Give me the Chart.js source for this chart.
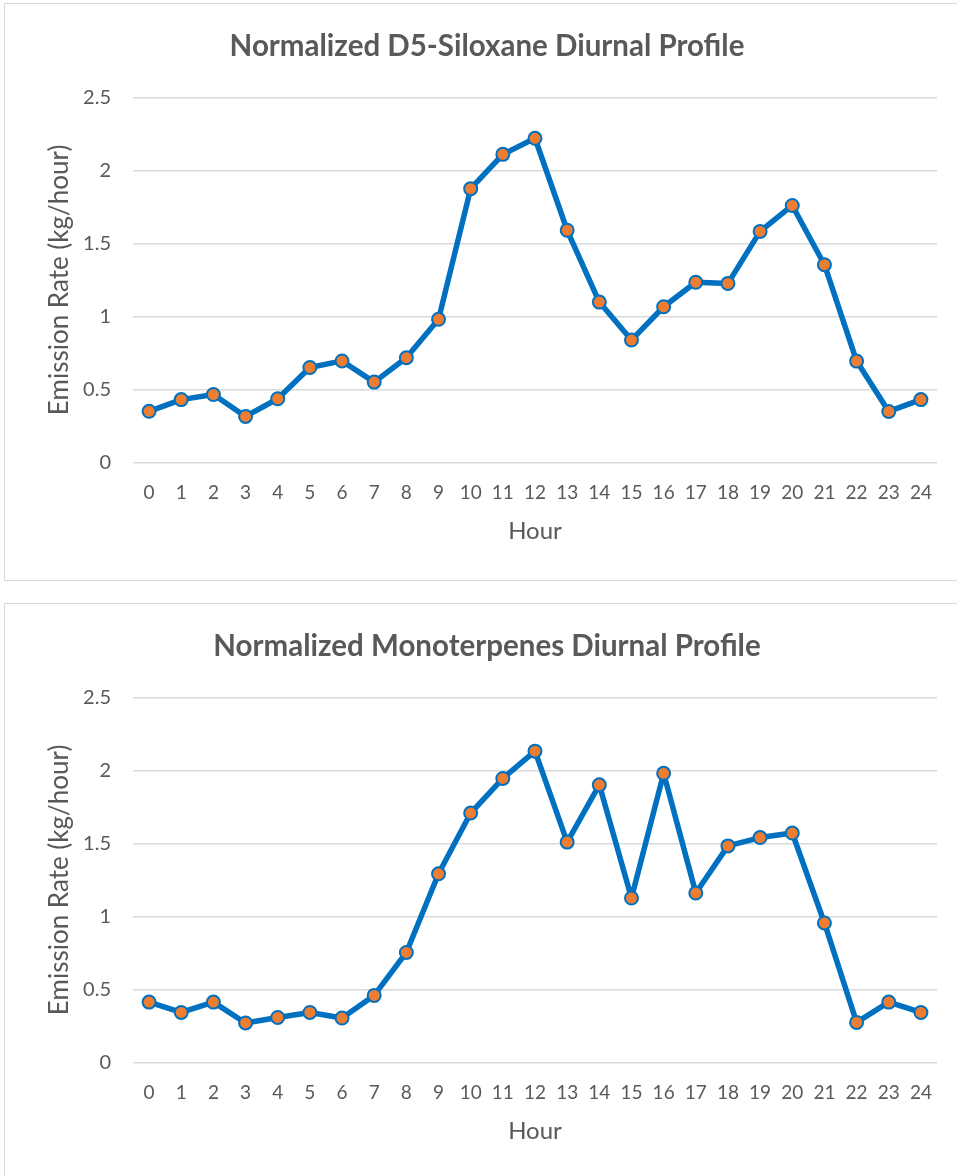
<!DOCTYPE html>
<html>
<head>
<meta charset="utf-8">
<script src="https://cdn.jsdelivr.net/npm/chart.js@4.4.1/dist/chart.umd.min.js"></script>
<style>
  html, body { margin: 0; padding: 0; background: #fff; overflow: hidden; width: 957px; height: 1176px; }
  .box { position: absolute; left: 4px; width: 960px; height: 576px; border: 1px solid #d9d9d9; background: #fff; }
  .box canvas { display: block; }
</style>
</head>
<body>
<div class="box" style="top:3px"><canvas id="c1" width="960" height="576"></canvas></div>
<div class="box" style="top:603px"><canvas id="c2" width="960" height="576"></canvas></div>
<script>
// hours on the x axis
const hours = ['0','1','2','3','4','5','6','7','8','9','10','11','12','13','14','15','16','17','18','19','20','21','22','23','24'];

// D5-siloxane, kg/hour
const siloxane = [0.35, 0.43, 0.465, 0.315, 0.436, 0.65, 0.695, 0.55, 0.717, 0.98,
  1.875, 2.11, 2.22, 1.59, 1.098, 0.838, 1.066, 1.234, 1.226, 1.582,
  1.76, 1.354, 0.694, 0.349, 0.43];

// monoterpenes, kg/hour
const monoterpenes = [0.413, 0.342, 0.413, 0.27, 0.308, 0.342, 0.304, 0.459, 0.753, 1.292,
  1.708, 1.945, 2.132, 1.509, 1.901, 1.126, 1.98, 1.16, 1.483, 1.54,
  1.571, 0.955, 0.274, 0.413, 0.342];

const yTicks = [0, 0.5, 1, 1.5, 2, 2.5];

const txt = '#595959';
const FONT = 'Lato, "Open Sans", sans-serif';

// the title in the original is centred on the whole frame, not on the padded area
const shiftTitle = {
  id: 'shiftTitle',
  afterLayout(chart) { chart.titleBlock.left += 32; }
};

function makeChart(id, title, values) {
  return new Chart(document.getElementById(id), {
    type: 'line',
    data: {
      labels: hours,
      datasets: [{
        data: values,
        borderColor: '#0070c0',
        borderWidth: 5.5,
        borderJoinStyle: 'round',
        borderCapStyle: 'round',
        pointBackgroundColor: '#ed7d31',
        pointBorderColor: '#0070c0',
        pointBorderWidth: 2,
        pointRadius: 6.5,
        tension: 0
      }]
    },
    plugins: [shiftTitle],
    options: {
      responsive: false,
      animation: false,
      layout: { padding: { left: 0, right: 28, top: 0, bottom: 34 } },
      plugins: {
        legend: { display: false },
        tooltip: { enabled: false },
        title: {
          display: true,
          text: title,
          color: txt,
          font: { family: FONT, size: 29.5, weight: 'bold' },
          padding: { top: 25, bottom: 33 }
        }
      },
      scales: {
        x: {
          offset: true,
          grid: { display: false, drawTicks: false },
          border: { display: false },
          ticks: { color: txt, font: { family: FONT, size: 19 }, padding: 19, maxRotation: 0, autoSkip: false },
          title: { display: true, text: 'Hour', color: txt, font: { family: FONT, size: 24 }, padding: { top: -6, bottom: 0 } }
        },
        y: {
          min: 0, max: 2.5,
          afterBuildTicks: s => { s.ticks = yTicks.map(v => ({ value: v })); },
          afterFit: s => { s.width = 128; },
          grid: { color: '#d9d9d9', lineWidth: 1.5, drawTicks: false },
          border: { display: false },
          ticks: { color: txt, font: { family: FONT, size: 20 }, padding: 22, callback: v => String(v) },
          title: { display: true, text: 'Emission Rate (kg/hour)', color: txt, font: { family: FONT, size: 26 }, padding: { top: 39, bottom: 0 } }
        }
      }
    }
  });
}

makeChart('c1', 'Normalized D5-Siloxane Diurnal Profile', siloxane);
makeChart('c2', 'Normalized Monoterpenes Diurnal Profile', monoterpenes);
</script>
</body>
</html>
